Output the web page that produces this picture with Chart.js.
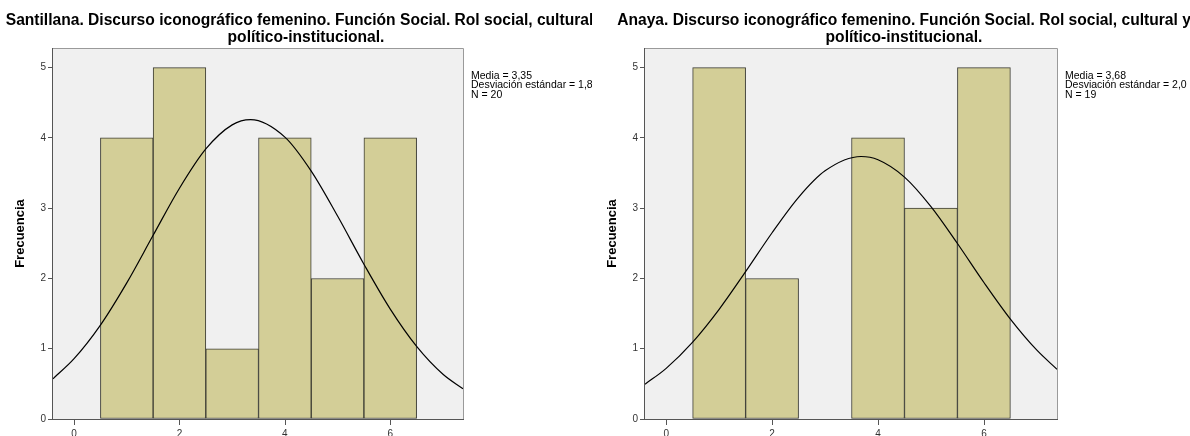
<!DOCTYPE html>
<html lang="es">
<head>
    <meta charset="UTF-8">
    <title>Discurso iconográfico femenino - Función Social</title>
    <script src="https://cdn.jsdelivr.net/npm/chart.js"></script>
    <style>
        html, body {
            margin: 0;
            padding: 0;
            background: #ffffff;
            overflow: hidden;
            width: 1190px;
            height: 436px;
        }
        .panel {
            position: absolute;
            top: 0;
            background: #ffffff;
            overflow: hidden;
        }
        .panel canvas { position: absolute; left: 0; top: 0; }
        .chart-title {
            position: absolute;
            left: 0;
            right: 0;
            top: 12px;
            text-align: center;
            white-space: nowrap;
            font-family: Arial, "Liberation Sans", sans-serif;
            font-weight: bold;
            font-size: 15.6px;
            line-height: 16.5px;
            color: #000;
            z-index: 3;
        }
        #leftPanel { left: 0; width: 612px; height: 445px; z-index: 1; }
        #rightPanel { left: 592px; width: 604px; height: 445px; z-index: 2; }
        #rightPanel .chart-title { left: 10px; right: -10px; }
    </style>
</head>
<body>
    <div id="leftPanel" class="panel">
        <canvas id="santillanaChart" width="612" height="445"></canvas>
        <div class="chart-title">Santillana. Discurso iconográfico femenino. Función Social. Rol social, cultural y<br>político-institucional.</div>
    </div>
    <div id="rightPanel" class="panel">
        <canvas id="anayaChart" width="604" height="445"></canvas>
        <div class="chart-title">Anaya. Discurso iconográfico femenino. Función Social. Rol social, cultural y<br>político-institucional.</div>
    </div>
    <script>
        // histogram bins (centre of each bar)
        let binCenters = [1, 2, 3, 4, 5, 6];
        let santillanaCounts = [4, 5, 1, 4, 2, 4];
        let anayaCounts = [5, 2, 0, 4, 3, 5];

        // normal curve
        let santillanaCurveX = [-0.4, 0, 0.5, 1, 1.5, 2, 2.5, 3, 3.35, 4, 4.5, 5, 5.5, 6, 6.5, 7, 7.38];
        let santillanaCurveY = [0.573, 0.858, 1.336, 1.937, 2.614, 3.284, 3.843, 4.186, 4.26, 4.011, 3.527, 2.888, 2.203, 1.564, 1.034, 0.637, 0.43];
        let anayaCurveX = [-0.4, 0, 0.5, 1, 1.5, 2, 2.5, 3, 3.68, 4, 4.5, 5, 5.5, 6, 6.5, 7, 7.38];
        let anayaCurveY = [0.495, 0.721, 1.094, 1.561, 2.097, 2.651, 3.155, 3.532, 3.736, 3.69, 3.443, 3.023, 2.498, 1.943, 1.422, 0.979, 0.708];

        let xTickLabels = [0, 2, 4, 6];
        let yTickLabels = [0, 1, 2, 3, 4, 5];

        let santillanaStats = ["Media = 3,35", "Desviación estándar = 1,8", "N = 20"];
        let anayaStats = ["Media = 3,68", "Desviación estándar = 2,0", "N = 19"];

        const FONT = "Arial, 'Liberation Sans', sans-serif";

        // grey plot background + frame + x tick marks + stats text
        const plotDecor = {
            id: "plotDecor",
            beforeDatasetsDraw(chart) {
                let a = chart.chartArea, ctx = chart.ctx;
                ctx.save();
                ctx.fillStyle = "#f0f0f0";
                ctx.fillRect(a.left, a.top, a.right - a.left, a.bottom - a.top);
                ctx.restore();
            },
            afterDraw(chart, args, opts) {
                let a = chart.chartArea, ctx = chart.ctx;
                ctx.save();
                ctx.strokeStyle = "#9a9a9a";
                ctx.lineWidth = 1;
                ctx.beginPath();
                ctx.moveTo(a.left, a.top + 0.5);
                ctx.lineTo(a.right + 0.5, a.top + 0.5);
                ctx.lineTo(a.right + 0.5, a.bottom);
                ctx.stroke();
                ctx.strokeStyle = "#555555";
                ctx.beginPath();
                ctx.moveTo(a.left - 0.5, a.top);
                ctx.lineTo(a.left - 0.5, a.bottom + 0.5);
                ctx.lineTo(a.right + 1, a.bottom + 0.5);
                ctx.stroke();
                // x tick marks
                let xs = chart.scales.x;
                ctx.beginPath();
                xTickLabels.forEach(v => {
                    let px = Math.round(xs.getPixelForValue(v)) + 0.5;
                    ctx.moveTo(px, a.bottom);
                    ctx.lineTo(px, a.bottom + 6);
                });
                ctx.stroke();
                ctx.fillStyle = "#000";
                ctx.font = "10.5px " + FONT;
                ctx.textBaseline = "top";
                (opts.lines || []).forEach((t, i) => {
                    ctx.fillText(t, a.right + 8, 71 + i * 9.3);
                });
                ctx.restore();
            }
        };

        function makeHistogram(canvasId, counts, curveX, curveY, stats, rightPad) {
            let ctx = document.getElementById(canvasId).getContext("2d");
            return new Chart(ctx, {
                type: "bar",
                data: {
                    datasets: [{
                        type: "line",
                        data: curveX.map((x, i) => ({ x: x, y: curveY[i] })),
                        borderColor: "#000000",
                        borderWidth: 1.2,
                        pointRadius: 0,
                        cubicInterpolationMode: "monotone",
                        fill: false,
                        order: 0
                    }, {
                        type: "bar",
                        data: binCenters.map((x, i) => ({ x: x, y: counts[i] })),
                        backgroundColor: "#d3ce97",
                        borderColor: "#3c3c33",
                        borderWidth: 1,
                        borderSkipped: false,
                        barPercentage: 1,
                        categoryPercentage: 1,
                        order: 1
                    }]
                },
                options: {
                    responsive: false,
                    animation: false,
                    devicePixelRatio: 1,
                    layout: { padding: { left: 0, right: rightPad, top: 48, bottom: 0 } },
                    plugins: {
                        legend: { display: false },
                        tooltip: { enabled: false },
                        title: { display: false },
                        plotDecor: { lines: stats }
                    },
                    scales: {
                        x: {
                            type: "linear",
                            min: -0.4,
                            max: 7.38,
                            offset: false,
                            afterFit: s => { s.height = 26; },
                            afterBuildTicks: s => { s.ticks = xTickLabels.map(v => ({ value: v })); },
                            grid: { display: false },
                            border: { display: false },
                            ticks: { color: "#333", font: { family: FONT, size: 10 }, padding: 1, includeBounds: false }
                        },
                        y: {
                            min: 0,
                            max: 5.28,
                            afterFit: s => { s.width = 53; },
                            afterBuildTicks: s => { s.ticks = yTickLabels.map(v => ({ value: v })); },
                            grid: { display: true, offset: false, drawOnChartArea: false, drawTicks: true, tickLength: 5, color: "#555" },
                            border: { display: false },
                            ticks: { color: "#333", font: { family: FONT, size: 10 }, padding: 2, includeBounds: false },
                            title: {
                                display: true,
                                text: "Frecuencia",
                                color: "#000",
                                font: { family: FONT, size: 13, weight: "bold" },
                                padding: { top: 13, bottom: 0 }
                            }
                        }
                    }
                },
                plugins: [plotDecor]
            });
        }

        makeHistogram("santillanaChart", santillanaCounts, santillanaCurveX, santillanaCurveY, santillanaStats, 149);
        makeHistogram("anayaChart", anayaCounts, anayaCurveX, anayaCurveY, anayaStats, 139);
    </script>
</body>
</html>
